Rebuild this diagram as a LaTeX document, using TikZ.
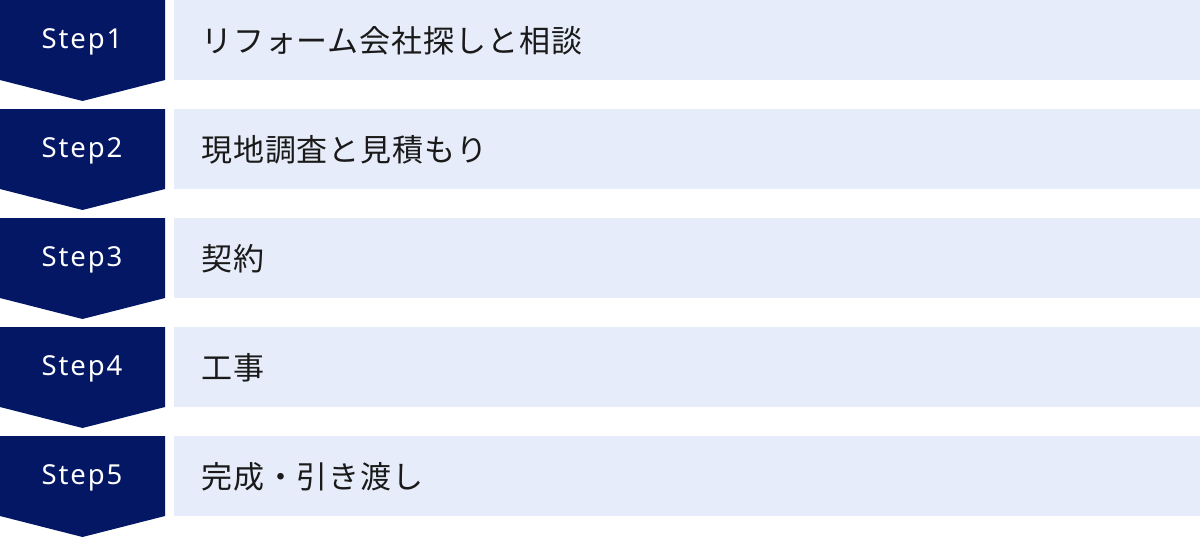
\documentclass[tikz,border=0pt]{standalone}
\usepackage{fontspec}
\setmainfont{Noto Sans}[LetterSpace=7]
\newfontfamily\jp{Noto Sans CJK JP}[LetterSpace=3]
\definecolor{navy}{HTML}{031764}
\definecolor{pale}{HTML}{E6ECF9}
\definecolor{ink}{HTML}{1A1A1A}

\tikzset{
  steplabel/.style={text=white, font=\fontsize{27.5pt}{32pt}\selectfont, inner sep=0pt},
  panel/.style={fill=pale, anchor=north west, minimum width=1026pt, minimum height=80pt, inner sep=0pt},
  paneltext/.style={anchor=west, text=ink, font=\jp\fontsize{31pt}{37pt}\selectfont, inner sep=0pt}
}

\begin{document}
\begin{tikzpicture}[x=1pt, y=1pt]
              \useasboundingbox (0,0) rectangle (1200,-538);

              \fill [navy] (0,0) -- (165,0) -- (165,-80) -- (82.5,-101) -- (0,-80) -- cycle;
              \fill [navy] (0,-109) -- (165,-109) -- (165,-189) -- (82.5,-210) -- (0,-189) -- cycle;
              \fill [navy] (0,-218) -- (165,-218) -- (165,-298) -- (82.5,-319) -- (0,-298) -- cycle;
              \fill [navy] (0,-327) -- (165,-327) -- (165,-407) -- (82.5,-428) -- (0,-407) -- cycle;
              \fill [navy] (0,-436) -- (165,-436) -- (165,-516) -- (82.5,-537) -- (0,-516) -- cycle;

              \node [steplabel] (step1) at (82,-42) {Step1};
              \node [steplabel] (step2) at (82,-151) {Step2};
              \node [steplabel] (step3) at (82,-260) {Step3};
              \node [steplabel] (step4) at (82,-369) {Step4};
              \node [steplabel] (step5) at (82,-478) {Step5};

              \node [panel] (riquadro1) at (174,0) {};
              \node [panel] (riquadro2) at (174,-109) {};
              \node [panel] (riquadro3) at (174,-218) {};
              \node [panel] (riquadro4) at (174,-327) {};
              \node [panel] (riquadro5) at (174,-436) {};

              \node [paneltext] (testo1) at (201,-41) {リフォーム会社探しと相談};
              \node [paneltext] (testo2) at (201,-150) {現地調査と見積もり};
              \node [paneltext] (testo3) at (201,-259) {契約};
              \node [paneltext] (testo4) at (201,-368) {工事};
              \node [paneltext] (testo5) at (201,-477) {完成・引き渡し};

            \end{tikzpicture}
\end{document}
